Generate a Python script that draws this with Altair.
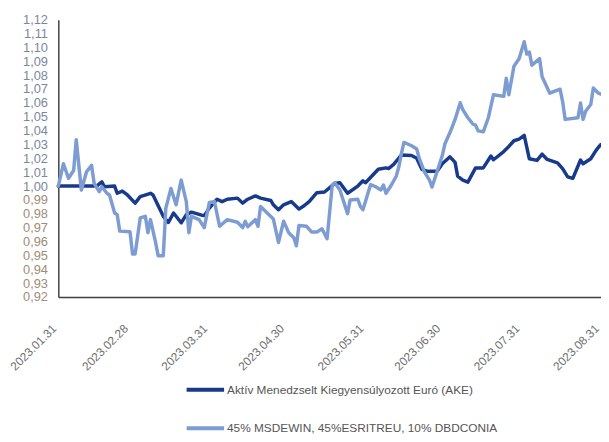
import altair as alt
import pandas as pd

start_date = (2023, 1, 31)
end_date = (2023, 8, 31)

series_names = [
    "Aktív Menedzselt Kiegyensúlyozott Euró (AKE)",
    "45% MSDEWIN, 45%ESRITREU, 10% DBDCONIA",
]

# days elapsed since 2023-01-31
ake_days = [0, 15, 17, 18, 22, 23, 25, 27, 30, 32, 36, 37, 41, 43, 45, 48, 50, 52, 56, 57,
            59, 62, 64, 66, 70, 72, 74, 77, 79, 83, 84, 86, 88, 91, 94, 96, 98, 101, 104, 108,
            110, 113, 117, 119, 120, 125, 128, 129, 131, 134, 138, 140, 142, 144, 148, 150, 153, 155, 156, 158,
            160, 163, 166, 169, 170, 174, 176, 178, 180, 182, 184, 187, 189, 191, 195, 197, 199, 201, 204, 205,
            208, 210, 211, 212]
ake_values = [1.000, 1.000, 1.0031, 0.9995, 1.000, 0.9948, 0.9964, 0.9936, 0.9877, 0.9924,
              0.9948, 0.9936, 0.9782, 0.9737, 0.9806, 0.9735, 0.9794, 0.9812, 0.979, 0.9787,
              0.9841, 0.9905, 0.9888, 0.9905, 0.9913, 0.9877, 0.9905, 0.9929, 0.9913, 0.9896,
              0.9865, 0.9829, 0.9865, 0.9888, 0.9834, 0.9858, 0.9888, 0.9952, 0.9957, 1.0019,
              1.0024, 0.9948, 1.000, 1.0038, 1.0024, 1.0121, 1.0131, 1.0126, 1.0156, 1.0224,
              1.022, 1.0201, 1.0121, 1.0107, 1.0107, 1.0161, 1.0211, 1.0171, 1.0071, 1.0043,
              1.0028, 1.0131, 1.0131, 1.0217, 1.019, 1.0249, 1.0286, 1.0327, 1.0339, 1.0366,
              1.0197, 1.0185, 1.023, 1.0192, 1.0167, 1.0126, 1.0066, 1.0055, 1.0188, 1.0161,
              1.0197, 1.0256, 1.028, 1.030]

bench_days = [0, 2, 4, 6, 7, 9, 11, 13, 14, 16, 17, 19, 20, 22, 23, 24, 28, 29, 30, 32,
              34, 35, 36, 38, 39, 41, 42, 44, 46, 48, 50, 51, 52, 55, 57, 59, 61, 63, 66, 70,
              72, 73, 74, 77, 78, 79, 81, 84, 86, 88, 90, 92, 93, 94, 97, 99, 101, 103, 105, 107,
              108, 110, 113, 114, 117, 118, 119, 122, 124, 126, 127, 128, 130, 132, 133, 134, 135, 138, 140, 141,
              143, 145, 146, 148, 150, 151, 153, 155, 157, 158, 160, 162, 163, 164, 166, 168, 170, 174, 175, 176,
              178, 180, 182, 183, 184, 185, 188, 189, 192, 196, 197, 198, 203, 204, 205, 206, 208, 209, 211, 212]
bench_values = [1.000, 1.0161, 1.0055, 1.0114, 1.0334, 0.9972, 1.0102, 1.0149, 1.0019, 0.996,
                0.9995, 0.9948, 0.9936, 0.9806, 0.9794, 0.9675, 0.9671, 0.951, 0.951, 0.977,
                0.9782, 0.9664, 0.9758, 0.9593, 0.9498, 0.9498, 0.9841, 0.9983, 0.9865, 1.0043,
                0.9888, 0.9664, 0.9782, 0.9758, 0.970, 0.9881, 0.9888, 0.971, 0.9758, 0.9739,
                0.970, 0.9746, 0.9707, 0.9758, 0.971, 0.9853, 0.9817, 0.9763, 0.9593, 0.9746,
                0.9664, 0.9628, 0.9569, 0.9716, 0.971, 0.9668, 0.9668, 0.9692, 0.9621, 1.0007,
                1.0024, 0.9972, 0.9801, 0.990, 0.9905, 0.9853, 0.9829, 1.0011, 0.9995, 0.9972,
                1.0007, 0.9948, 1.0004, 1.0071, 1.0137, 1.0232, 1.0315, 1.0291, 1.0268, 1.0199,
                1.0103, 1.0043, 0.9993, 1.0107, 1.022, 1.0303, 1.0386, 1.0481, 1.0601, 1.0552,
                1.0493, 1.0446, 1.0439, 1.0398, 1.0391, 1.0493, 1.0659, 1.0647, 1.0777, 1.0659,
                1.0865, 1.0919, 1.1041, 1.0952, 1.0967, 1.0872, 1.0919, 1.0789, 1.067, 1.0699,
                1.0611, 1.0481, 1.0493, 1.0599, 1.0481, 1.054, 1.0588, 1.0707, 1.067, 1.0663]

x_labels = ["2023.01.31", "2023.02.28", "2023.03.31", "2023.04.30",
            "2023.05.31", "2023.06.30", "2023.07.31", "2023.08.31"]
y_ticks = [0.92, 0.93, 0.94, 0.95, 0.96, 0.97, 0.98, 0.99, 1.00, 1.01, 1.02,
           1.03, 1.04, 1.05, 1.06, 1.07, 1.08, 1.09, 1.10, 1.11, 1.12]

colors = ["#173a8c", "#7d9cd2"]
FONT = "Liberation Sans, Arial, sans-serif"

base = pd.Timestamp(year=start_date[0], month=start_date[1], day=start_date[2])
df = pd.concat([
    pd.DataFrame({"date": base + pd.to_timedelta(ake_days, unit="D"),
                  "value": ake_values, "series": series_names[0]}),
    pd.DataFrame({"date": base + pd.to_timedelta(bench_days, unit="D"),
                  "value": bench_values, "series": series_names[1]}),
], ignore_index=True)


def to_dt(label):
    y, m, d = (int(p) for p in label.split("."))
    return alt.DateTime(year=y, month=m, date=d)


x_enc = alt.X(
    "date:T",
    scale=alt.Scale(domain=[alt.DateTime(year=start_date[0], month=start_date[1], date=start_date[2]),
                            alt.DateTime(year=end_date[0], month=end_date[1], date=end_date[2])]),
    axis=alt.Axis(values=[to_dt(s) for s in x_labels], format="%Y.%m.%d",
                  labelAngle=-45, labelAlign="right", labelBaseline="top",
                  labelFont=FONT, labelFontSize=12, labelColor="#6e6e6e",
                  labelPadding=26, labelOffset=-8, labelFlush=False, labelOverlap=False,
                  labelBound=False,
                  ticks=False, grid=False, title=None,
                  domainColor="#404040", domainWidth=1.5),
)
y_enc = alt.Y(
    "value:Q",
    scale=alt.Scale(domain=[y_ticks[0], y_ticks[-1]], nice=False, zero=False),
    axis=alt.Axis(values=y_ticks, grid=False, ticks=False, title=None,
                  labelExpr="replace(format(datum.value, '.2f'), '.', ',')",
                  labelFont=FONT, labelFontSize=13, labelPadding=11,
                  labelColor={"condition": {"test": "datum.value < 0.995", "value": "#a08c78"},
                              "value": "#7c879c"},
                  domainColor="#404040", domainWidth=1.5),
)
color_enc = alt.Color(
    "series:N",
    scale=alt.Scale(domain=series_names, range=colors),
    legend=alt.Legend(orient="none", legendX=128, legendY=354, direction="vertical",
                      title=None, symbolType="stroke", symbolSize=1444, symbolStrokeWidth=4,
                      labelFont=FONT, labelFontSize=12, labelColor="#555555",
                      rowPadding=10, labelOffset=1, padding=0, labelLimit=500),
)

line_base = alt.Chart(df).mark_line(strokeWidth=3.5, strokeJoin="round", strokeCap="round").encode(
    x=x_enc, y=y_enc, color=color_enc)
ake_line = line_base.transform_filter(alt.datum.series == series_names[0])
bench_line = line_base.transform_filter(alt.datum.series == series_names[1])

chart = alt.layer(ake_line, bench_line).properties(
    width=550, height=281,
    autosize=alt.AutoSizeParams(type="none"),
    padding={"left": 51, "top": 9, "right": 0, "bottom": 136},
).configure_view(stroke=None)

chart.save("out.html", embed_options={"renderer": "svg", "actions": False})
